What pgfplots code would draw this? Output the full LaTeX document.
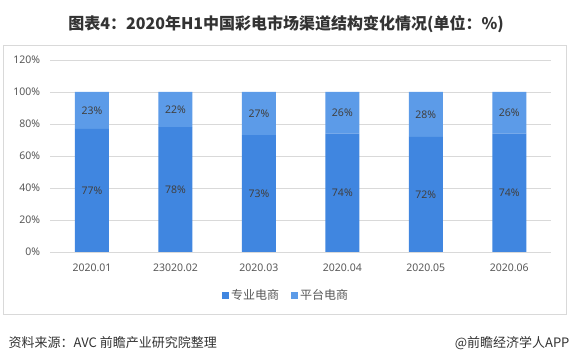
\documentclass[border=0pt]{standalone}
\usepackage{fontspec}
\setmainfont{Noto Sans CJK SC}
\newfontfamily\nsans{Noto Sans}
\usepackage{pgfplots}
\pgfplotsset{compat=1.18}
\definecolor{cA}{RGB}{64,134,224}
\definecolor{cB}{RGB}{92,155,232}
\definecolor{gridc}{RGB}{217,217,217}
\definecolor{tickc}{RGB}{89,89,89}
\definecolor{labc}{RGB}{64,64,64}
\definecolor{titc}{RGB}{51,51,51}
\begin{document}
\begin{tikzpicture}[x=1pt,y=1pt]
\path[use as bounding box, fill=white] (0,0) rectangle (572,361);
\draw[gridc, line width=1pt] (3.5,46) rectangle (566,315);
\node[font=\bfseries\fontsize{16}{18}\selectfont, text=titc] at (286,337) {图表4：2020年H1中国彩电市场渠道结构变化情况(单位：\%)};
\begin{axis}[
  at={(50.25pt,109pt)}, anchor=south west,
  scale only axis, width=500.75pt, height=192pt,
  ybar stacked, bar width=34pt,
  xmin=-0.5, xmax=5.5, ymin=0, ymax=120,
  xtick={0,...,5},
  xticklabels={2020.01,23020.02,2020.03,2020.04,2020.05,2020.06},
  ytick={0,20,...,120},
  yticklabel={\pgfmathprintnumber{\tick}\%},
  /pgf/number format/assume math mode=true,
  major tick length=0pt,
  ymajorgrids, grid style={gridc, line width=0.8pt},
  axis line style={draw=none},
  tick label style={font=\nsans\fontsize{10.5}{12}\selectfont, text=tickc},
  yticklabel style={xshift=-6.5pt},
  xticklabel style={yshift=-8pt},
  nodes near coords={\pgfmathprintnumber{\pgfplotspointmeta}\%},
  every node near coord/.append style={anchor=center, font=\nsans\fontsize{10.5}{12}\selectfont, text=labc},
  legend style={at={(0.4708,-0.224)}, anchor=center, legend columns=2, draw=none, fill=none,
    font=\fontsize{12}{14}\selectfont, text=tickc,
    /tikz/every even column/.append style={column sep=10pt}},
  legend image code/.code={\fill[#1] (0pt,-3.5pt) rectangle (7pt,3.5pt);},
]
\addplot[fill=cA, draw=none] coordinates {(0,77) (1,78) (2,73) (3,74) (4,72) (5,74)};
\addlegendentry{专业电商}
\addplot[fill=cB, draw=none] coordinates {(0,23) (1,22) (2,27) (3,26) (4,28) (5,26)};
\addlegendentry{平台电商}
\end{axis}
\node[anchor=west, font=\fontsize{13}{15}\selectfont, text=titc] at (5,18) {资料来源：AVC 前瞻产业研究院整理};
\node[anchor=east, font=\fontsize{13}{15}\selectfont, text=titc] at (573,18) {@前瞻经济学人APP};
\end{tikzpicture}
\end{document}
